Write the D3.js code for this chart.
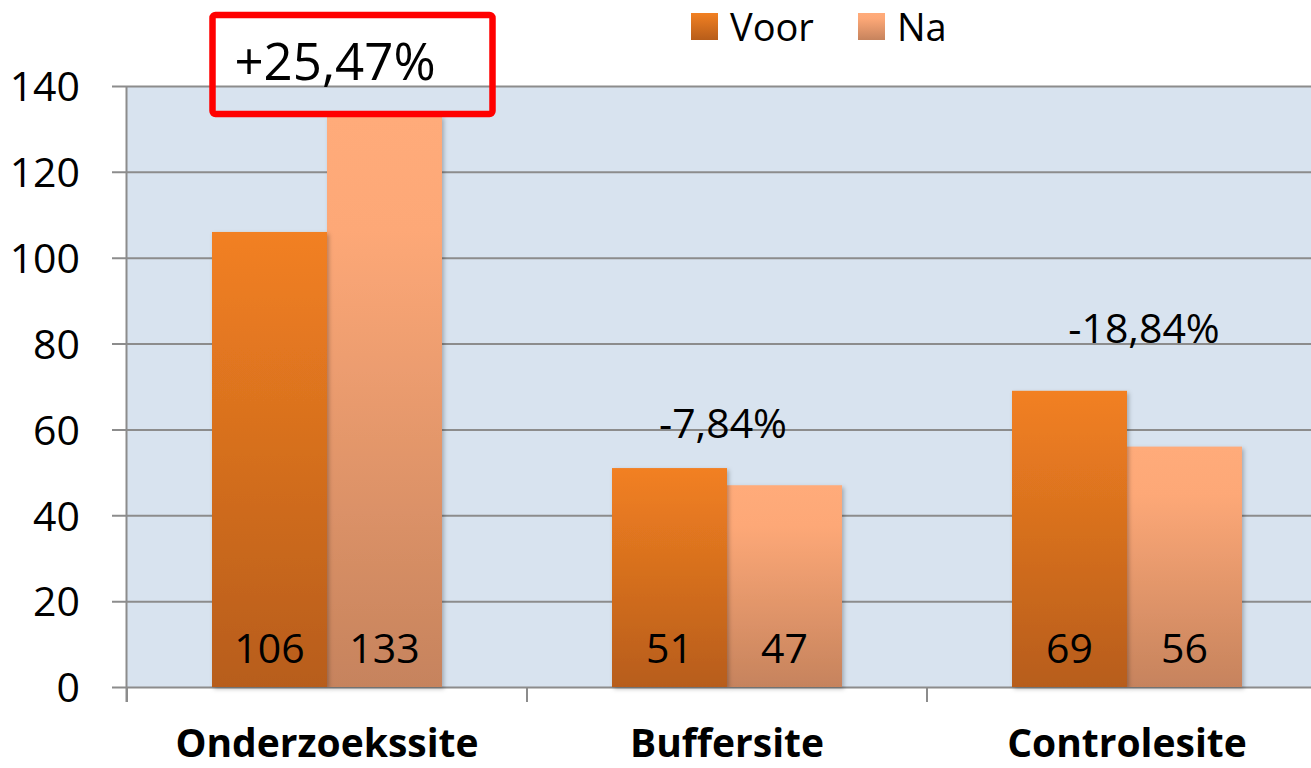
<!DOCTYPE html>
<html><head><meta charset="utf-8">
<script src="https://cdn.jsdelivr.net/npm/d3@7"></script>
<style>html,body{margin:0;padding:0;background:#fff;}svg{display:block;font-family:"Open Sans",sans-serif;}</style>
</head><body>
<svg id="c" width="1311" height="768"></svg>
<script>
const categories = ["Onderzoekssite", "Buffersite", "Controlesite"];
const seriesNames = ["Voor", "Na"];
const voor = [106, 51, 69];
const na = [133, 47, 56];
const changeLabels = ["+25,47%", "-7,84%", "-18,84%"];
const yTicks = [0, 20, 40, 60, 80, 100, 120, 140];

const svg = d3.select("#c");
const M = {left: 127, top: 86, right: 1327, bottom: 687};
const x = d3.scaleBand().domain(categories).range([M.left, M.right]).paddingInner(0).paddingOuter(0);
const xs = d3.scaleBand().domain(seriesNames).range([0, 230]);
const y = d3.scaleLinear().domain([0, 140]).range([M.bottom, M.top]);

const defs = svg.append("defs");
const g1 = defs.append("linearGradient").attr("id","gVoor").attr("x1",0).attr("y1",0).attr("x2",0).attr("y2",1);
g1.append("stop").attr("offset","0%").attr("stop-color","#f28022");
g1.append("stop").attr("offset","100%").attr("stop-color","#b75d1a");
const g2 = defs.append("linearGradient").attr("id","gNa").attr("x1",0).attr("y1",0).attr("x2",0).attr("y2",1);
g2.append("stop").attr("offset","0%").attr("stop-color","#ffab7a");
g2.append("stop").attr("offset","20%").attr("stop-color","#fda877");
g2.append("stop").attr("offset","100%").attr("stop-color","#c6835d");
const f = defs.append("filter").attr("id","sh").attr("x","-10%").attr("y","-10%").attr("width","130%").attr("height","130%");
f.append("feDropShadow").attr("dx",2).attr("dy",2).attr("stdDeviation",2).attr("flood-color","#000").attr("flood-opacity",0.25);
const fills = {Voor: "url(#gVoor)", Na: "url(#gNa)"};

// plot background
svg.append("rect").attr("x", M.left).attr("y", M.top).attr("width", M.right - M.left).attr("height", M.bottom - M.top).attr("fill", "#d8e3ef");

// gridlines + y axis labels
const yAxis = d3.axisLeft(y).tickValues(yTicks).tickSize(-(M.right - M.left + 15)).tickPadding(0).tickFormat(d3.format("d"));
const ya = svg.append("g").attr("transform", `translate(${M.left - 15},0)`).call(yAxis);
ya.select(".domain").remove();
ya.selectAll(".tick line").attr("stroke", "#8c8c8c").attr("stroke-width", 2);
ya.selectAll(".tick text").attr("x", -32).attr("dy", "0.36em").attr("font-size", 41).attr("fill", "#000").attr("font-family", "Open Sans");

// vertical axis line
svg.append("line").attr("x1", M.left - 0.5).attr("x2", M.left - 0.5).attr("y1", M.top).attr("y2", M.bottom + 15).attr("stroke", "#8c8c8c").attr("stroke-width", 2);
// x ticks
const xTickPos = categories.map(c => x(c)).concat([M.right]);
svg.selectAll(".xt").data(xTickPos).enter().append("line")
  .attr("x1", d => d).attr("x2", d => d).attr("y1", M.bottom).attr("y2", M.bottom + 15)
  .attr("stroke", "#8c8c8c").attr("stroke-width", 2);

// bars
const data = categories.map((c, i) => ({cat: c, vals: [{s: "Voor", v: voor[i]}, {s: "Na", v: na[i]}]}));
const groups = svg.selectAll(".grp").data(data).enter().append("g")
  .attr("transform", d => `translate(${x(d.cat) + x.bandwidth() / 2 - 115},0)`);
groups.selectAll("rect").data(d => d.vals.slice().reverse()).enter().append("rect")
  .attr("x", d => xs(d.s)).attr("width", xs.bandwidth())
  .attr("y", d => y(d.v)).attr("height", d => y(0) - y(d.v))
  .attr("fill", d => fills[d.s]).attr("filter", "url(#sh)");
groups.selectAll("text.val").data(d => d.vals).enter().append("text")
  .attr("class", "val")
  .attr("x", d => xs(d.s) + xs.bandwidth() / 2).attr("y", M.bottom - 24)
  .attr("text-anchor", "middle").attr("font-size", 41).attr("fill", "#000")
  .text(d => String(d.v));

// change labels
const labelOffsets = [{dx: 8, dy: -36, size: 51}, {dx: -4, dy: -30, size: 41}, {dx: 17, dy: -48, size: 41}];
svg.selectAll(".chg").data(changeLabels).enter().append("text")
  .attr("x", (d, i) => x(categories[i]) + x.bandwidth() / 2 + labelOffsets[i].dx)
  .attr("y", (d, i) => y(Math.max(voor[i], na[i])) + labelOffsets[i].dy)
  .attr("text-anchor", "middle").attr("font-size", (d, i) => labelOffsets[i].size).attr("fill", "#000")
  .text(d => d);

// red box around first label
const bx = x(categories[0]) + x.bandwidth() / 2 - 115;
svg.append("rect").attr("x", bx + 0.5).attr("y", 15).attr("width", 280).attr("height", 99).attr("rx", 3)
  .attr("fill", "none").attr("stroke", "#ff0000").attr("stroke-width", 6.5);

// category labels
svg.selectAll(".cat").data(categories).enter().append("text")
  .attr("x", d => x(d) + x.bandwidth() / 2).attr("y", 757)
  .attr("text-anchor", "middle").attr("font-size", 39).attr("font-weight", "bold").attr("fill", "#000")
  .text(d => d);

// legend
const leg = svg.append("g");
const legPos = [691, 858];
seriesNames.forEach((s, i) => {
  leg.append("rect").attr("x", legPos[i]).attr("y", 13).attr("width", 27).attr("height", 27).attr("fill", fills[s]);
  leg.append("text").attr("x", legPos[i] + 39).attr("y", 41).attr("font-size", 38).attr("fill", "#000").text(s);
});
</script>
</body></html>
